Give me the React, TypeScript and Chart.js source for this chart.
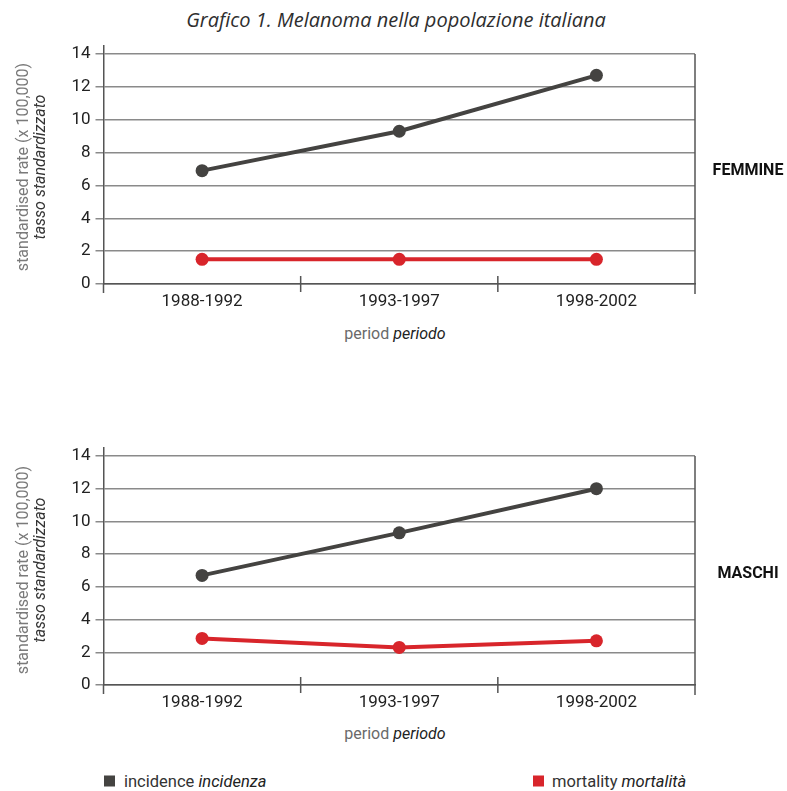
import React, { useEffect, useRef } from "react";
import { Chart, registerables } from "chart.js";

Chart.register(...registerables);

const periods = ["1988-1992", "1993-1997", "1998-2002"];
const femaleIncidence = [6.9, 9.3, 12.7];
const femaleMortality = [1.5, 1.5, 1.5];
const maleIncidence = [6.7, 9.3, 12.0];
const maleMortality = [2.85, 2.3, 2.7];
const yTickValues = [0, 2, 4, 6, 8, 10, 12, 14];

const INC_COLOR = "#444341";
const MORT_COLOR = "#d8252b";
const AXIS_COLOR = "#555555";
const GRID_COLOR = "#8a8a8a";
const FONT = "Roboto, 'DejaVu Sans', sans-serif";

const frameLines = {
  id: "frameLines",
  afterDraw(chart: any) {
    const { ctx } = chart;
    const x = chart.scales.x;
    const y = chart.scales.y;
    const n = chart.data.labels.length;
    const y0 = y.getPixelForValue(0);
    const yTop = y.getPixelForValue(14);
    const half = (x.getPixelForValue(1) - x.getPixelForValue(0)) / 2;
    ctx.save();
    ctx.strokeStyle = AXIS_COLOR;
    ctx.lineWidth = 1.5;
    ctx.beginPath();
    const left = x.getPixelForValue(0) - half;
    ctx.moveTo(left, y0);
    ctx.lineTo(left, y0 + 9);
    for (let i = 1; i < n; i++) {
      const bx = x.getPixelForValue(i) - half;
      ctx.moveTo(bx, y0 - 8);
      ctx.lineTo(bx, y0 + 8);
    }
    const right = x.getPixelForValue(n - 1) + half;
    ctx.moveTo(right, yTop);
    ctx.lineTo(right, y0 + 10);
    ctx.stroke();
    ctx.restore();
  },
};

function LineChart({ inc, mort, padTop, axisH }: { inc: number[]; mort: number[]; padTop: number; axisH: number }) {
  const ref = useRef<HTMLCanvasElement | null>(null);
  useEffect(() => {
    if (!ref.current) return;
    const chart = new Chart(ref.current, {
      type: "line",
      data: {
        labels: periods,
        datasets: [
          {
            label: "incidence",
            data: inc,
            borderColor: INC_COLOR,
            backgroundColor: INC_COLOR,
            borderWidth: 4,
            pointRadius: 6.5,
            pointBorderWidth: 0,
            tension: 0,
          },
          {
            label: "mortality",
            data: mort,
            borderColor: MORT_COLOR,
            backgroundColor: MORT_COLOR,
            borderWidth: 4,
            pointRadius: 6.5,
            pointBorderWidth: 0,
            tension: 0,
          },
        ],
      },
      options: {
        animation: false,
        responsive: false,
        devicePixelRatio: 1,
        layout: { padding: { top: padTop, right: 92, left: 0, bottom: 0 } },
        plugins: { legend: { display: false }, tooltip: { enabled: false }, title: { display: false } },
        scales: {
          x: {
            type: "category",
            offset: true,
            grid: { display: false },
            border: { display: true, color: AXIS_COLOR, width: 1.5 },
            ticks: { color: "#222", font: { family: FONT, size: 17 }, padding: 0, maxRotation: 0 },
            afterFit: (s: any) => {
              s.height = axisH;
            },
          },
          y: {
            min: 0,
            max: 14.5,
            grid: { color: GRID_COLOR, lineWidth: 1.5, tickLength: 8, tickColor: GRID_COLOR },
            border: { display: true, color: AXIS_COLOR, width: 1.5 },
            ticks: { color: "#222", font: { family: FONT, size: 17 }, padding: 5 },
            afterBuildTicks: (s: any) => {
              s.ticks = yTickValues.map((v) => ({ value: v }));
            },
            afterFit: (s: any) => {
              s.width = 103.5;
            },
          },
        },
      },
      plugins: [frameLines],
    });
    return () => chart.destroy();
  }, []);
  return <canvas ref={ref} width={787} height={320} style={{ display: "block", width: 787, height: 320 }} />;
}

const abs = (style: React.CSSProperties): React.CSSProperties => ({ position: "absolute", ...style });

function YTitle({ cy }: { cy: number }) {
  return (
    <div
      style={abs({
        left: 31,
        top: cy,
        width: 300,
        transform: "translate(-50%, -50%) rotate(-90deg)",
        textAlign: "center",
        fontFamily: FONT,
        fontSize: 16,
        lineHeight: "17px",
        whiteSpace: "nowrap",
      })}
    >
      <div style={{ color: "#7a7a7a" }}>standardised rate (x 100,000)</div>
      <div style={{ color: "#333", fontStyle: "italic" }}>tasso standardizzato</div>
    </div>
  );
}

function XTitle({ cy }: { cy: number }) {
  return (
    <div
      style={abs({
        left: 395,
        top: cy,
        transform: "translate(-50%, -50%)",
        fontFamily: FONT,
        fontSize: 16,
        whiteSpace: "nowrap",
      })}
    >
      <span style={{ color: "#6a6a6a" }}>period </span>
      <span style={{ color: "#222", fontStyle: "italic" }}>periodo</span>
    </div>
  );
}

export default function App() {
  return (
    <div style={abs({ left: 0, top: 0, width: 787, height: 791, background: "#fff", overflow: "hidden" })}>
      <div
        style={abs({
          left: 396,
          top: 19,
          transform: "translate(-50%, -50%)",
          fontFamily: "'Open Sans', sans-serif",
          fontStyle: "italic",
          fontSize: 20,
          color: "#2e2e2e",
          whiteSpace: "nowrap",
        })}
      >
        Grafico 1. Melanoma nella popolazione italiana
      </div>

      <div style={abs({ left: 0, top: 0 })}>
        <LineChart inc={femaleIncidence} mort={femaleMortality} padTop={45.8} axisH={36} />
      </div>
      <div style={abs({ left: 0, top: 400 })}>
        <LineChart inc={maleIncidence} mort={maleMortality} padTop={47.8} axisH={35} />
      </div>

      <YTitle cy={167} />
      <YTitle cy={570} />
      <XTitle cy={333} />
      <XTitle cy={733} />

      <div style={abs({ left: 748, top: 169, transform: "translate(-50%, -50%)", fontFamily: FONT, fontWeight: 700, fontSize: 16, color: "#111" })}>
        FEMMINE
      </div>
      <div style={abs({ left: 748, top: 572, transform: "translate(-50%, -50%)", fontFamily: FONT, fontWeight: 700, fontSize: 16, color: "#111" })}>
        MASCHI
      </div>

      <div style={abs({ left: 104, top: 781, transform: "translateY(-50%)", display: "flex", alignItems: "center", fontFamily: FONT, fontSize: 16.5, whiteSpace: "nowrap" })}>
        <span style={{ display: "inline-block", width: 11, height: 11, background: INC_COLOR, marginRight: 9 }} />
        <span style={{ color: "#333" }}>incidence&nbsp;</span>
        <span style={{ color: "#222", fontStyle: "italic" }}>incidenza</span>
      </div>
      <div style={abs({ left: 533, top: 781, transform: "translateY(-50%)", display: "flex", alignItems: "center", fontFamily: FONT, fontSize: 16.5, whiteSpace: "nowrap" })}>
        <span style={{ display: "inline-block", width: 11, height: 11, background: MORT_COLOR, marginRight: 8 }} />
        <span style={{ color: "#333" }}>mortality&nbsp;</span>
        <span style={{ color: "#222", fontStyle: "italic" }}>mortalità</span>
      </div>
    </div>
  );
}
